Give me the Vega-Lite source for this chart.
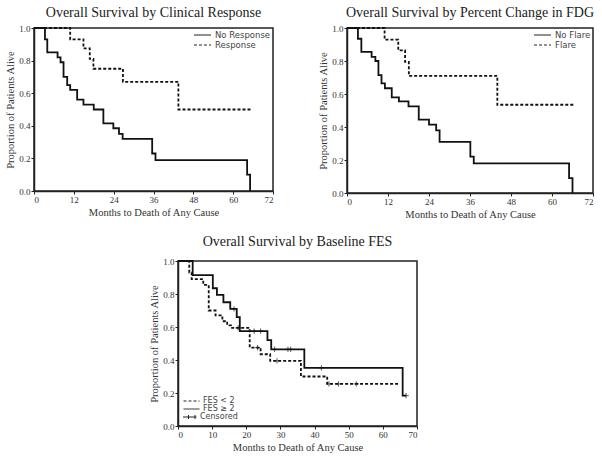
{
  "$schema": "https://vega.github.io/schema/vega-lite/v6.json",
  "background": "white",
  "padding": {"left": 5, "top": 5, "right": 1, "bottom": 0},
  "config": {
    "font": "Liberation Serif",
    "view": {"stroke": "#222", "strokeWidth": 1.5},
    "axis": {
      "grid": false,
      "domainColor": "#222",
      "domainWidth": 1.5,
      "tickColor": "#222",
      "tickSize": 3,
      "labelFont": "Liberation Serif",
      "labelFontSize": 9,
      "labelColor": "#333",
      "labelPadding": 1,
      "labelOverlap": false,
      "titleFont": "Liberation Serif",
      "titleFontSize": 10.5,
      "titleFontWeight": "normal",
      "titleColor": "#333",
      "titlePadding": 3
    },
    "title": {"font": "Liberation Serif", "fontSize": 14, "fontWeight": "normal", "color": "#222", "offset": 4},
    "legend": {
      "labelFont": "DejaVu Sans",
      "labelColor": "#444",
      "title": null,
      "layout": {"bottom-left": {"direction": "vertical", "margin": 0}}
    }
  },
  "resolve": {"scale": {"x": "independent", "y": "independent", "strokeDash": "independent", "shape": "independent"}, "legend": {"strokeDash": "independent", "shape": "independent"}},
  "datasets": {
    "cr": [
      {"g": "No Response", "m": 0, "s": 1},
      {"g": "No Response", "m": 3.3, "s": 0.93},
      {"g": "No Response", "m": 4.0, "s": 0.85},
      {"g": "No Response", "m": 7.1, "s": 0.82},
      {"g": "No Response", "m": 8.0, "s": 0.79},
      {"g": "No Response", "m": 8.9, "s": 0.70},
      {"g": "No Response", "m": 10.0, "s": 0.65},
      {"g": "No Response", "m": 10.9, "s": 0.62},
      {"g": "No Response", "m": 13.0, "s": 0.56},
      {"g": "No Response", "m": 14.9, "s": 0.53},
      {"g": "No Response", "m": 18.0, "s": 0.50},
      {"g": "No Response", "m": 20.9, "s": 0.415},
      {"g": "No Response", "m": 23.9, "s": 0.385},
      {"g": "No Response", "m": 25.6, "s": 0.35},
      {"g": "No Response", "m": 26.7, "s": 0.32},
      {"g": "No Response", "m": 35.6, "s": 0.23},
      {"g": "No Response", "m": 36.6, "s": 0.19},
      {"g": "No Response", "m": 64.2, "s": 0.10},
      {"g": "No Response", "m": 65.1, "s": 0.0},
      {"g": "Response", "m": 0, "s": 1},
      {"g": "Response", "m": 10.9, "s": 0.93},
      {"g": "Response", "m": 14.9, "s": 0.875},
      {"g": "Response", "m": 16.8, "s": 0.81},
      {"g": "Response", "m": 17.9, "s": 0.75},
      {"g": "Response", "m": 26.8, "s": 0.67},
      {"g": "Response", "m": 43.5, "s": 0.50},
      {"g": "Response", "m": 65.7, "s": 0.50}
    ],
    "fdg": [
      {"g": "No Flare", "m": 0, "s": 1},
      {"g": "No Flare", "m": 3.2, "s": 0.935},
      {"g": "No Flare", "m": 4.2, "s": 0.855},
      {"g": "No Flare", "m": 7.2, "s": 0.825},
      {"g": "No Flare", "m": 8.3, "s": 0.80},
      {"g": "No Flare", "m": 9.2, "s": 0.715},
      {"g": "No Flare", "m": 10.1, "s": 0.665},
      {"g": "No Flare", "m": 11.1, "s": 0.635},
      {"g": "No Flare", "m": 13.1, "s": 0.58},
      {"g": "No Flare", "m": 15.2, "s": 0.555},
      {"g": "No Flare", "m": 18.0, "s": 0.525},
      {"g": "No Flare", "m": 21.0, "s": 0.445},
      {"g": "No Flare", "m": 24.0, "s": 0.415},
      {"g": "No Flare", "m": 26.1, "s": 0.38},
      {"g": "No Flare", "m": 27.1, "s": 0.31},
      {"g": "No Flare", "m": 36.1, "s": 0.22},
      {"g": "No Flare", "m": 37.1, "s": 0.18},
      {"g": "No Flare", "m": 65.0, "s": 0.09},
      {"g": "No Flare", "m": 66.0, "s": 0.0},
      {"g": "Flare", "m": 0, "s": 1},
      {"g": "Flare", "m": 11.0, "s": 0.93},
      {"g": "Flare", "m": 15.0, "s": 0.865},
      {"g": "Flare", "m": 17.0, "s": 0.795},
      {"g": "Flare", "m": 18.1, "s": 0.71},
      {"g": "Flare", "m": 44.0, "s": 0.535},
      {"g": "Flare", "m": 66.7, "s": 0.535}
    ],
    "fes": [
      {"g": "FES ≥ 2", "m": 0, "s": 1},
      {"g": "FES ≥ 2", "m": 4.3, "s": 0.915},
      {"g": "FES ≥ 2", "m": 10.2, "s": 0.835},
      {"g": "FES ≥ 2", "m": 11.4, "s": 0.795},
      {"g": "FES ≥ 2", "m": 13.3, "s": 0.75},
      {"g": "FES ≥ 2", "m": 15.3, "s": 0.71},
      {"g": "FES ≥ 2", "m": 17.2, "s": 0.66},
      {"g": "FES ≥ 2", "m": 18.1, "s": 0.575},
      {"g": "FES ≥ 2", "m": 26.2, "s": 0.52},
      {"g": "FES ≥ 2", "m": 27.3, "s": 0.465},
      {"g": "FES ≥ 2", "m": 37.0, "s": 0.352},
      {"g": "FES ≥ 2", "m": 65.8, "s": 0.184},
      {"g": "FES ≥ 2", "m": 66.8, "s": 0.184},
      {"g": "FES < 2", "m": 0, "s": 1},
      {"g": "FES < 2", "m": 3.3, "s": 0.93},
      {"g": "FES < 2", "m": 4.0, "s": 0.89},
      {"g": "FES < 2", "m": 7.4, "s": 0.855},
      {"g": "FES < 2", "m": 9.0, "s": 0.70},
      {"g": "FES < 2", "m": 11.0, "s": 0.67},
      {"g": "FES < 2", "m": 13.0, "s": 0.635},
      {"g": "FES < 2", "m": 14.4, "s": 0.61},
      {"g": "FES < 2", "m": 15.5, "s": 0.595},
      {"g": "FES < 2", "m": 21.0, "s": 0.475},
      {"g": "FES < 2", "m": 24.2, "s": 0.435},
      {"g": "FES < 2", "m": 27.0, "s": 0.395},
      {"g": "FES < 2", "m": 36.0, "s": 0.30},
      {"g": "FES < 2", "m": 43.7, "s": 0.255},
      {"g": "FES < 2", "m": 64.5, "s": 0.255}
    ],
    "cens": [
      {"t": "Censored", "m": 16.4, "s": 0.71},
      {"t": "Censored", "m": 22.3, "s": 0.575},
      {"t": "Censored", "m": 24.2, "s": 0.575},
      {"t": "Censored", "m": 28.3, "s": 0.465},
      {"t": "Censored", "m": 32.2, "s": 0.465},
      {"t": "Censored", "m": 33.0, "s": 0.465},
      {"t": "Censored", "m": 42.0, "s": 0.352},
      {"t": "Censored", "m": 66.8, "s": 0.184},
      {"t": "Censored", "m": 17.6, "s": 0.595},
      {"t": "Censored", "m": 23.3, "s": 0.475},
      {"t": "Censored", "m": 29.0, "s": 0.395},
      {"t": "Censored", "m": 44.2, "s": 0.255},
      {"t": "Censored", "m": 47.0, "s": 0.255},
      {"t": "Censored", "m": 52.2, "s": 0.255}
    ]
  },
  "spacing": 13,
  "vconcat": [
    {
      "spacing": 43,
      "resolve": {"scale": {"x": "independent", "y": "independent", "strokeDash": "independent"}, "legend": {"strokeDash": "independent"}},
      "hconcat": [
        {
          "title": "Overall Survival by Clinical Response",
          "width": 239,
          "height": 163,
          "data": {"name": "cr"},
          "mark": {"type": "line", "interpolate": "step-after", "color": "#111", "strokeWidth": 1.8},
          "encoding": {
            "x": {"field": "m", "type": "quantitative", "scale": {"domain": [0, 72], "nice": false}, "axis": {"values": [0, 12, 24, 36, 48, 60, 72], "title": "Months to Death of Any Cause"}},
            "y": {"field": "s", "type": "quantitative", "scale": {"domain": [0, 1], "nice": false}, "axis": {"values": [0, 0.2, 0.4, 0.6, 0.8, 1.0], "format": ".1f", "title": "Proportion of Patients Alive"}},
            "strokeDash": {"field": "g", "type": "nominal", "scale": {"domain": ["No Response", "Response"], "range": [[1, 0], [3, 2]]},
              "legend": {"orient": "top-right", "offset": 2, "symbolType": "stroke", "symbolSize": 290, "symbolStrokeWidth": 1, "symbolStrokeColor": "#222", "labelFontSize": 8.5, "rowPadding": 0, "clipHeight": 10, "labelOffset": 3, "padding": 0}}
          }
        },
        {
          "title": "Overall Survival by Percent Change in FDG",
          "width": 246,
          "height": 165,
          "data": {"name": "fdg"},
          "mark": {"type": "line", "interpolate": "step-after", "color": "#111", "strokeWidth": 1.8},
          "encoding": {
            "x": {"field": "m", "type": "quantitative", "scale": {"domain": [0, 72], "nice": false}, "axis": {"values": [0, 12, 24, 36, 48, 60, 72], "title": "Months to Death of Any Cause"}},
            "y": {"field": "s", "type": "quantitative", "scale": {"domain": [0, 1], "nice": false}, "axis": {"values": [0, 0.2, 0.4, 0.6, 0.8, 1.0], "format": ".1f", "title": "Proportion of Patients Alive"}},
            "strokeDash": {"field": "g", "type": "nominal", "scale": {"domain": ["No Flare", "Flare"], "range": [[1, 0], [3, 2]]},
              "legend": {"orient": "top-right", "offset": 2, "symbolType": "stroke", "symbolSize": 290, "symbolStrokeWidth": 1, "symbolStrokeColor": "#222", "labelFontSize": 8.5, "rowPadding": 0, "clipHeight": 10, "labelOffset": 3, "padding": 0}}
          }
        }
      ]
    },
    {
      "spacing": 0,
      "resolve": {"scale": {"x": "independent", "y": "independent", "strokeDash": "independent", "shape": "independent"}, "legend": {"strokeDash": "independent", "shape": "independent"}},
      "hconcat": [
        {
          "width": 115,
          "height": 10,
          "view": {"stroke": null},
          "data": {"values": []},
          "mark": {"type": "point"},
          "encoding": {}
        },
        {
          "title": {"text": "Overall Survival by Baseline FES", "offset": 8},
          "width": 239,
          "height": 165,
          "encoding": {
            "x": {"field": "m", "type": "quantitative", "scale": {"domain": [0, 70], "nice": false}, "axis": {"values": [0, 10, 20, 30, 40, 50, 60, 70], "title": "Months to Death of Any Cause"}},
            "y": {"field": "s", "type": "quantitative", "scale": {"domain": [0, 1], "nice": false}, "axis": {"values": [0, 0.2, 0.4, 0.6, 0.8, 1.0], "format": ".1f", "title": "Proportion of Patients Alive"}}
          },
          "layer": [
            {
              "data": {"name": "fes"},
              "mark": {"type": "line", "interpolate": "step-after", "color": "#111", "strokeWidth": 1.8},
              "encoding": {
                "strokeDash": {"field": "g", "type": "nominal", "scale": {"domain": ["FES < 2", "FES ≥ 2"], "range": [[3, 2], [1, 0]]},
                  "legend": {"orient": "bottom-left", "offset": 5, "symbolType": "stroke", "symbolSize": 256, "symbolStrokeWidth": 1, "symbolStrokeColor": "#222", "labelFontSize": 8, "rowPadding": 0, "clipHeight": 8, "labelOffset": 3, "padding": 0}}
              }
            },
            {
              "data": {"name": "cens"},
              "mark": {"type": "point", "filled": false, "stroke": "#111", "strokeWidth": 1, "size": 28, "shape": "M-1,0H1M0,-1V1"}
            },
            {
              "data": {"name": "cens"},
              "mark": {"type": "point", "filled": false, "stroke": "#111", "strokeWidth": 1, "size": 28, "opacity": 0},
              "encoding": {
                "shape": {"field": "t", "type": "nominal", "scale": {"domain": ["Censored"], "range": ["M-1.6,0H1.6M-1.3,-0.4V0.4M0,-0.4V0.4M1.3,-0.4V0.4"]},
                  "legend": {"orient": "bottom-left", "offset": 5, "symbolSize": 100, "symbolOpacity": 1, "symbolStrokeWidth": 1, "symbolStrokeColor": "#222", "symbolFillColor": "transparent", "labelFontSize": 8, "clipHeight": 8, "labelOffset": 6, "padding": 0}}
              }
            }
          ]
        }
      ]
    }
  ]
}
